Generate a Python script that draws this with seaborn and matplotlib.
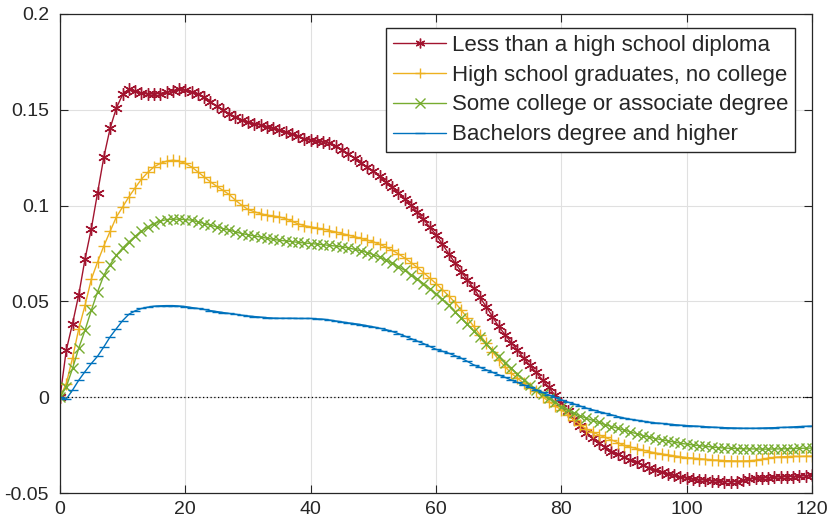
import numpy as np
import pandas as pd
import matplotlib
matplotlib.use("Agg")
import matplotlib.pyplot as plt
import seaborn as sns

# Horizon (months) and responses by educational attainment
horizon = list(range(0, 121))

less_than_hs = [
    0.0000, 0.0245, 0.0384, 0.0536, 0.0722, 0.0880, 0.1068, 0.1254, 0.1404, 0.1510,
    0.1580, 0.1608, 0.1598, 0.1588, 0.1582, 0.1582, 0.1585, 0.1592, 0.1600, 0.1606,
    0.1602, 0.1594, 0.1584, 0.1567, 0.1542, 0.1520, 0.1498, 0.1480, 0.1463, 0.1447,
    0.1436, 0.1428, 0.1420, 0.1412, 0.1403, 0.1395, 0.1385, 0.1374, 0.1362, 0.1350,
    0.1340, 0.1336, 0.1334, 0.1328, 0.1312, 0.1292, 0.1270, 0.1248, 0.1224, 0.1200,
    0.1178, 0.1152, 0.1124, 0.1096, 0.1066, 0.1036, 0.1002, 0.0966, 0.0928, 0.0888,
    0.0848, 0.0800, 0.0750, 0.0702, 0.0656, 0.0612, 0.0569, 0.0521, 0.0473, 0.0421,
    0.0369, 0.0327, 0.0285, 0.0245, 0.0204, 0.0166, 0.0129, 0.0090, 0.0052, 0.0010,
    -0.0031, -0.0073, -0.0115, -0.0152, -0.0188, -0.0215, -0.0240, -0.0262, -0.0284, -0.0298,
    -0.0312, -0.0326, -0.0340, -0.0354, -0.0367, -0.0378, -0.0389, -0.0399, -0.0408, -0.0416,
    -0.0423, -0.0427, -0.0430, -0.0433, -0.0436, -0.0438, -0.0440, -0.0441, -0.0440, -0.0434,
    -0.0427, -0.0424, -0.0422, -0.0420, -0.0418, -0.0416, -0.0415, -0.0414, -0.0412, -0.0410,
    -0.0408,
]

hs_graduates = [
    0.0000, 0.0071, 0.0205, 0.0358, 0.0480, 0.0616, 0.0706, 0.0790, 0.0866, 0.0941,
    0.0993, 0.1046, 0.1093, 0.1138, 0.1173, 0.1202, 0.1220, 0.1232, 0.1237, 0.1232,
    0.1220, 0.1202, 0.1176, 0.1150, 0.1124, 0.1101, 0.1080, 0.1058, 0.1028, 0.1002,
    0.0980, 0.0968, 0.0958, 0.0950, 0.0946, 0.0941, 0.0932, 0.0918, 0.0905, 0.0895,
    0.0889, 0.0883, 0.0878, 0.0870, 0.0862, 0.0854, 0.0846, 0.0838, 0.0829, 0.0820,
    0.0811, 0.0798, 0.0784, 0.0767, 0.0748, 0.0727, 0.0703, 0.0677, 0.0650, 0.0622,
    0.0593, 0.0562, 0.0530, 0.0495, 0.0456, 0.0414, 0.0370, 0.0326, 0.0282, 0.0238,
    0.0196, 0.0160, 0.0125, 0.0099, 0.0073, 0.0050, 0.0030, 0.0003, -0.0023, -0.0045,
    -0.0066, -0.0092, -0.0118, -0.0143, -0.0167, -0.0182, -0.0197, -0.0210, -0.0223, -0.0237,
    -0.0252, -0.0260, -0.0268, -0.0276, -0.0284, -0.0291, -0.0296, -0.0301, -0.0306, -0.0311,
    -0.0315, -0.0318, -0.0321, -0.0324, -0.0327, -0.0329, -0.0331, -0.0332, -0.0333, -0.0333,
    -0.0332, -0.0329, -0.0324, -0.0318, -0.0314, -0.0311, -0.0310, -0.0309, -0.0309, -0.0308,
    -0.0308,
]

some_college = [
    0.0000, 0.0054, 0.0150, 0.0257, 0.0350, 0.0454, 0.0550, 0.0637, 0.0692, 0.0741,
    0.0779, 0.0811, 0.0840, 0.0866, 0.0889, 0.0906, 0.0919, 0.0927, 0.0929, 0.0929,
    0.0927, 0.0924, 0.0915, 0.0906, 0.0898, 0.0889, 0.0880, 0.0872, 0.0863, 0.0854,
    0.0848, 0.0842, 0.0836, 0.0830, 0.0824, 0.0819, 0.0816, 0.0812, 0.0808, 0.0805,
    0.0802, 0.0799, 0.0796, 0.0792, 0.0789, 0.0785, 0.0779, 0.0772, 0.0764, 0.0755,
    0.0744, 0.0731, 0.0716, 0.0700, 0.0682, 0.0662, 0.0640, 0.0617, 0.0593, 0.0567,
    0.0540, 0.0511, 0.0480, 0.0447, 0.0414, 0.0380, 0.0346, 0.0313, 0.0280, 0.0246,
    0.0213, 0.0181, 0.0151, 0.0120, 0.0090, 0.0064, 0.0038, 0.0016, -0.0005, -0.0027,
    -0.0049, -0.0067, -0.0084, -0.0097, -0.0110, -0.0121, -0.0132, -0.0143, -0.0153, -0.0162,
    -0.0171, -0.0181, -0.0191, -0.0200, -0.0208, -0.0216, -0.0222, -0.0228, -0.0234, -0.0240,
    -0.0245, -0.0249, -0.0253, -0.0256, -0.0260, -0.0263, -0.0265, -0.0267, -0.0268, -0.0269,
    -0.0270, -0.0270, -0.0271, -0.0271, -0.0270, -0.0270, -0.0269, -0.0268, -0.0267, -0.0266,
    -0.0266,
]

bachelors_plus = [
    0.0000, -0.0010, 0.0037, 0.0089, 0.0134, 0.0176, 0.0214, 0.0263, 0.0315, 0.0358,
    0.0400, 0.0433, 0.0451, 0.0463, 0.0470, 0.0475, 0.0477, 0.0478, 0.0478, 0.0476,
    0.0473, 0.0468, 0.0463, 0.0458, 0.0452, 0.0447, 0.0442, 0.0437, 0.0433, 0.0428,
    0.0424, 0.0421, 0.0418, 0.0415, 0.0413, 0.0412, 0.0412, 0.0412, 0.0411, 0.0411,
    0.0411, 0.0409, 0.0407, 0.0403, 0.0398, 0.0393, 0.0388, 0.0384, 0.0379, 0.0373,
    0.0367, 0.0360, 0.0353, 0.0343, 0.0332, 0.0319, 0.0306, 0.0293, 0.0280, 0.0265,
    0.0250, 0.0240, 0.0230, 0.0217, 0.0204, 0.0187, 0.0169, 0.0156, 0.0143, 0.0130,
    0.0117, 0.0104, 0.0090, 0.0077, 0.0064, 0.0051, 0.0038, 0.0025, 0.0012, 0.0000,
    -0.0014, -0.0025, -0.0035, -0.0046, -0.0057, -0.0066, -0.0075, -0.0084, -0.0092, -0.0101,
    -0.0109, -0.0115, -0.0120, -0.0125, -0.0130, -0.0134, -0.0137, -0.0140, -0.0143, -0.0146,
    -0.0148, -0.0150, -0.0152, -0.0154, -0.0156, -0.0158, -0.0159, -0.0160, -0.0161, -0.0162,
    -0.0162, -0.0162, -0.0161, -0.0160, -0.0159, -0.0158, -0.0157, -0.0155, -0.0153, -0.0152,
    -0.0151,
]

series_labels = [
    "Less than a high school diploma",
    "High school graduates, no college",
    "Some college or associate degree",
    "Bachelors degree and higher",
]
series_values = [less_than_hs, hs_graduates, some_college, bachelors_plus]
series_colors = ["#A2142F", "#EDB120", "#77AC30", "#0072BD"]
series_markers = [(6, 2, 0), "+", "x", "_"]
marker_sizes = [9.0, 8.5, 6.5, 7.0]

x_ticks = [0, 20, 40, 60, 80, 100, 120]
y_ticks = [-0.05, 0, 0.05, 0.1, 0.15, 0.2]
y_tick_labels = ["-0.05", "0", "0.05", "0.1", "0.15", "0.2"]

sns.set_style("white")
plt.rcParams["font.family"] = ["Liberation Sans", "DejaVu Sans"]

axis_gray = "#262626"

fig = plt.figure(figsize=(8.30, 5.27), dpi=100)
ax = fig.add_axes([60 / 830, 34 / 527, 752 / 830, 479 / 527])

frames = []
for label, vals in zip(series_labels, series_values):
    frames.append(pd.DataFrame({"horizon": horizon, "response": vals, "group": label}))
df = pd.concat(frames, ignore_index=True)

for label, color, mk, ms in zip(series_labels, series_colors, series_markers, marker_sizes):
    sub = df[df["group"] == label]
    sns.lineplot(
        data=sub, x="horizon", y="response", ax=ax,
        color=color, marker=mk, markersize=ms,
        markeredgecolor=color, markerfacecolor=color, markeredgewidth=1.0,
        linewidth=1.0, errorbar=None, label=label,
    )

# Zero reference line
ax.axhline(0, color="black", linestyle=(0, (1, 2)), linewidth=0.9, zorder=1)

ax.set_xlim(0, 120)
ax.set_ylim(-0.05, 0.2)
ax.set_xticks(x_ticks)
ax.set_xticklabels([str(t) for t in x_ticks])
ax.set_yticks(y_ticks)
ax.set_yticklabels(y_tick_labels)
ax.set_xlabel("")
ax.set_ylabel("")

ax.grid(True, color="#e0e0e0", linewidth=0.8, zorder=0)
ax.set_axisbelow(True)
for side in ["left", "right", "top", "bottom"]:
    ax.spines[side].set_visible(True)
    ax.spines[side].set_color(axis_gray)
    ax.spines[side].set_linewidth(0.9)
ax.tick_params(axis="both", which="both", direction="in", length=5.5, width=0.8,
               colors=axis_gray, labelsize=14, top=True, right=True,
               bottom=True, left=True, pad=6)
ax.tick_params(axis="y", pad=8)

leg = ax.legend(
    loc="upper right", bbox_to_anchor=((795 - 60) / 752, (493 - 28) / 479),
    borderaxespad=0, fontsize=16, frameon=True, fancybox=False,
    handlelength=2.4, handletextpad=0.25, labelspacing=0.4, borderpad=0.3,
)
leg.get_frame().set_edgecolor(axis_gray)
leg.get_frame().set_linewidth(1.0)
leg.get_frame().set_facecolor("white")
leg.get_frame().set_alpha(1.0)
for line in leg.get_lines():
    line.set_linewidth(1.0)
    line.set_markersize(7)

fig.savefig("out.png", dpi=100)
